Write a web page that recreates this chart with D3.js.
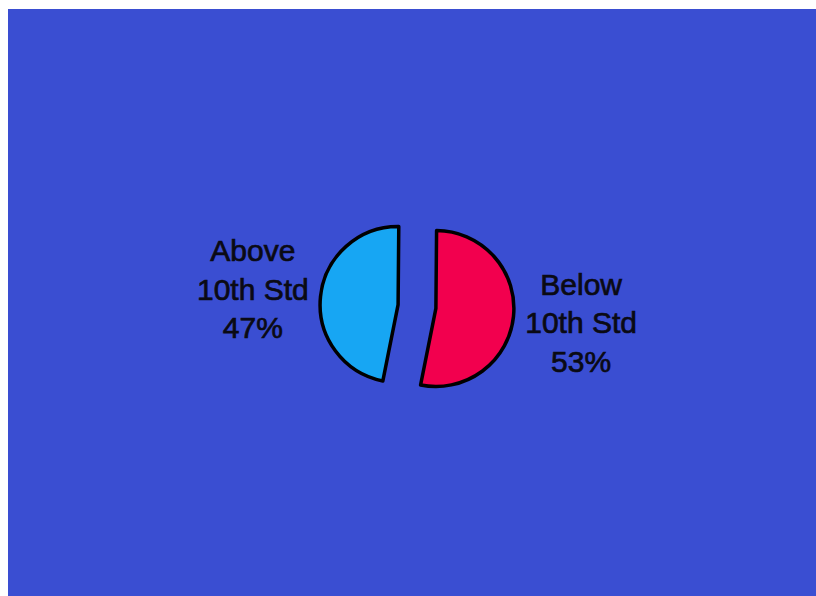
<!DOCTYPE html>
<html lang="en">
<head>
    <meta charset="utf-8">
    <title>Above / Below 10th Std</title>
    <script src="https://cdn.jsdelivr.net/npm/d3@7"></script>
    <style>
        html, body { margin: 0; padding: 0; background: #ffffff; }
        svg { display: block; }
        .slice-label {
            font-family: "Liberation Sans", Arial, sans-serif;
            font-size: 30px;
            fill: #0a0a14;
            stroke: #0a0a14;
            stroke-width: 0.7px;
        }
    </style>
</head>
<body>
<div id="chart"></div>
<script>
    // Data
    var categories = ['Below', 'Above'];
    var labelLines = [['Below', '10th Std'], ['Above', '10th Std']];
    var values = [53, 47];
    var colors = ['#f2004e', '#17a6f3'];

    // Dimensions
    var width = 816,
        height = 596,
        cx = 417,
        cy = 306.5,
        radius = 78,
        explode = 19,
        labelRadius = 165,
        lineHeight = 38.5,
        startDeg = 0.5;

    var svg = d3.select('#chart').append('svg')
        .attr('width', width)
        .attr('height', height);

    // Blue backdrop (white margin at top and left)
    svg.append('rect')
        .attr('x', 8)
        .attr('y', 9)
        .attr('width', width - 8)
        .attr('height', height - 9)
        .attr('fill', '#3a4ed2');

    var a0 = startDeg * Math.PI / 180;
    var pie = d3.pie().sort(null).startAngle(a0).endAngle(a0 + 2 * Math.PI);
    var arcs = pie(values);

    var arc = d3.arc().innerRadius(0).outerRadius(radius);
    var labelArc = d3.arc().innerRadius(labelRadius).outerRadius(labelRadius);

    var g = svg.append('g').attr('transform', 'translate(' + cx + ',' + cy + ')');

    // Exploded slices
    g.selectAll('path.slice')
        .data(arcs)
        .enter()
        .append('path')
        .attr('class', 'slice')
        .attr('d', arc)
        .attr('fill', function(d, i) { return colors[i]; })
        .attr('stroke', '#000000')
        .attr('stroke-width', 3.5)
        .attr('stroke-linejoin', 'round')
        .attr('transform', function(d) {
            var mid = (d.startAngle + d.endAngle) / 2;
            return 'translate(' + (explode * Math.sin(mid)) + ',' + (-explode * Math.cos(mid)) + ')';
        });

    // Labels
    var labels = g.selectAll('text.slice-label')
        .data(arcs)
        .enter()
        .append('text')
        .attr('class', 'slice-label')
        .attr('text-anchor', 'middle')
        .attr('transform', function(d) {
            var c = labelArc.centroid(d);
            return 'translate(' + c[0] + ',' + c[1] + ')';
        });

    labels.each(function(d, i) {
        var lines = labelLines[i].concat([values[i] + '%']);
        var t = d3.select(this);
        lines.forEach(function(line, k) {
            t.append('tspan')
                .attr('x', 0)
                .attr('y', (k - 1) * lineHeight + 10)
                .text(line);
        });
    });
</script>
</body>
</html>
